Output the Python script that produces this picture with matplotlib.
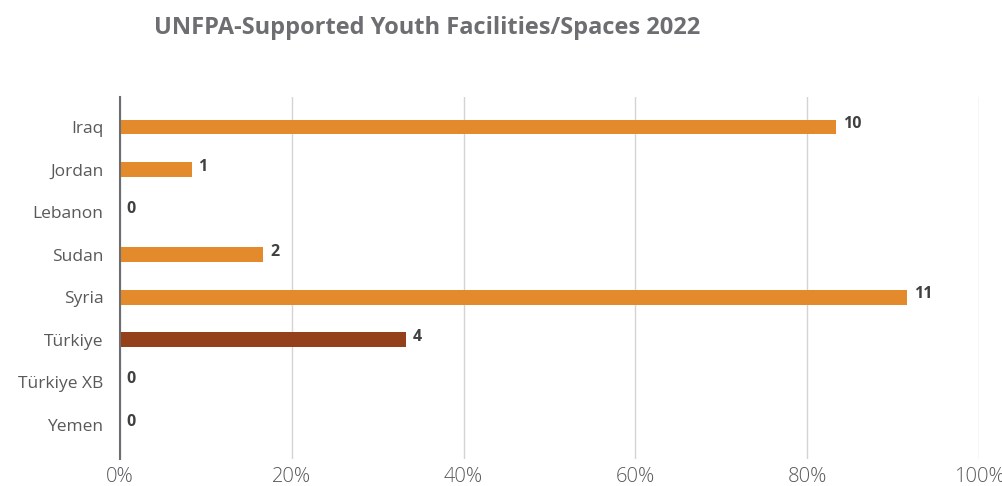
import numpy as np
import matplotlib.pyplot as plt
from matplotlib.ticker import PercentFormatter

# data
countries = ['Iraq', 'Jordan', 'Lebanon', 'Sudan', 'Syria', 'Türkiye', 'Türkiye XB', 'Yemen']
facilities = [10, 1, 0, 2, 11, 4, 0, 0]
total = 12  # bar length is the share of this total
highlight = 'Türkiye'

orange = '#E38B2C'
dark = '#94401B'

plt.rcParams['font.family'] = ['Open Sans', 'DejaVu Sans']

fig = plt.figure(figsize=(10.03, 4.86), dpi=100)
ax = fig.add_axes([0.1196, 0.0556, 0.8564, 0.7444])

pos = np.arange(len(countries))
share = np.array(facilities) / total
colors = [dark if c == highlight else orange for c in countries]
ax.barh(pos, share, height=0.35, color=colors, zorder=3)

for y, s, v in zip(pos, share, facilities):
    ax.text(s + 0.008, y - 0.07, str(v), va='center', ha='left',
            fontsize=11.5, fontweight='bold', color='#404040')

ax.set_xlim(0, 1)
ax.set_ylim(7.8, -0.7)
ax.set_yticks(pos)
ax.set_yticklabels(countries)
ax.set_xticks(np.arange(0, 1.01, 0.2))
ax.xaxis.set_major_formatter(PercentFormatter(1.0, decimals=0))

ax.grid(axis='x', color='#d4d4d4', linewidth=1, zorder=0)
for sp in ['top', 'right', 'bottom']:
    ax.spines[sp].set_visible(False)
ax.spines['left'].set_color('#6d6e71')
ax.spines['left'].set_linewidth(1.5)
ax.spines['left'].set_zorder(4)
ax.tick_params(axis='both', length=0, labelcolor='#58595b')
ax.tick_params(axis='y', pad=12, labelsize=12.5)
ax.tick_params(axis='x', pad=6, labelsize=14.5)
for lab in ax.get_xticklabels():
    lab.set_fontweight('light')

fig.text(0.426, 0.942, 'UNFPA-Supported Youth Facilities/Spaces 2022', ha='center', va='center',
         fontsize=17, fontweight='bold', color='#6d6e71')

fig.savefig('out.png', dpi=100)
